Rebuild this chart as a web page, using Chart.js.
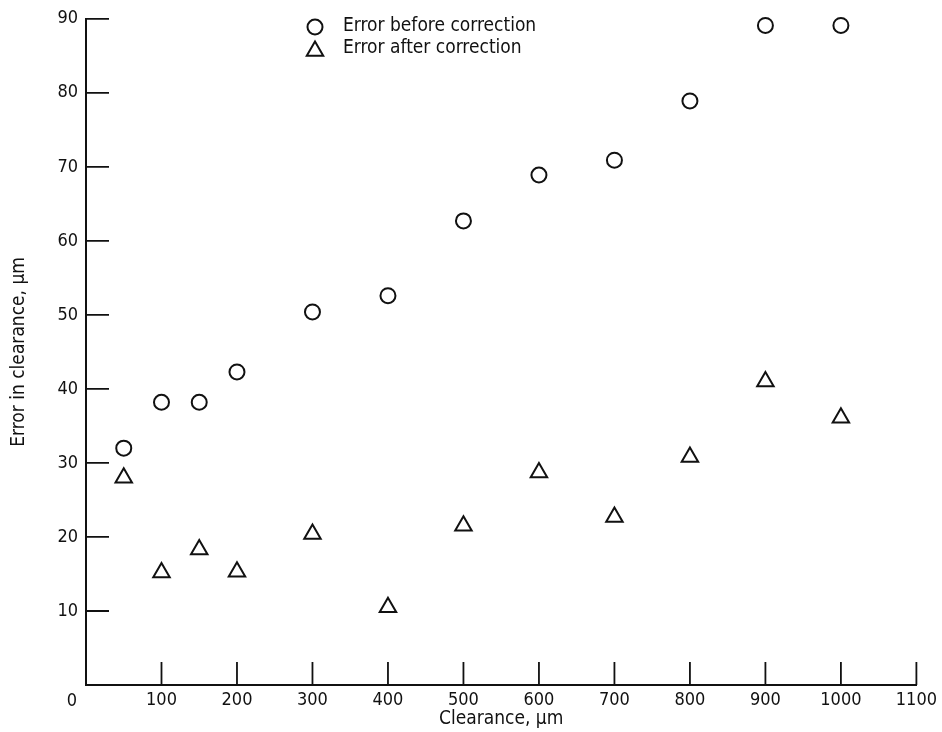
<!DOCTYPE html>
<html>
<head>
<meta charset="utf-8">
<script src="https://cdn.jsdelivr.net/npm/chart.js@4"></script>
<style>
  html, body { margin: 0; padding: 0; background: #fff; }
  #wrap { width: 942px; height: 732px; }
</style>
</head>
<body>
<div id="wrap"><canvas id="chart"></canvas></div>
<script>
// data
const clearance = [50, 100, 150, 200, 300, 400, 500, 600, 700, 800, 900, 1000];
const errorBefore = [32.0, 38.2, 38.2, 42.3, 50.4, 52.6, 62.7, 68.9, 70.9, 78.9, 89.1, 89.1];
const errorAfter = [28.0, 15.2, 18.3, 15.3, 20.4, 10.5, 21.5, 28.7, 22.7, 30.8, 41.0, 36.1];
const seriesLabels = ['Error before correction', 'Error after correction'];
const xTitle = 'Clearance, µm';
const yTitle = 'Error in clearance, µm';

const tickFont = { family: 'DejaVu Sans Condensed', size: 18 };
const textFont = { family: 'DejaVu Sans Condensed', size: 19 };
const ink = '#111';

function toPoints(ys) {
    return clearance.map((x, i) => ({ x: x, y: ys[i] }));
}

// inward tick marks, the lone "0" and the legend
const paperPlugin = {
    id: 'paper',
    afterDraw(chart) {
        const ctx = chart.ctx;
        const xs = chart.scales.x, ys = chart.scales.y;
        const x0 = xs.getPixelForValue(0), y0 = ys.getPixelForValue(0);
        ctx.save();
        ctx.strokeStyle = ink;
        ctx.lineWidth = 1.8;
        ctx.beginPath();
        xs.ticks.forEach(t => {
            if (t.value === 0) return;
            const px = xs.getPixelForValue(t.value);
            ctx.moveTo(px, y0);
            ctx.lineTo(px, y0 - 23);
        });
        ys.ticks.forEach(t => {
            if (t.value === 0) return;
            const py = ys.getPixelForValue(t.value);
            ctx.moveTo(x0, py);
            ctx.lineTo(x0 + 23, py);
        });
        ctx.stroke();

        ctx.fillStyle = ink;
        ctx.font = tickFont.size + 'px "' + tickFont.family + '"';
        ctx.textAlign = 'center';
        ctx.textBaseline = 'middle';
        ctx.fillText('0', x0 - 14, y0 + 16);

        // legend
        const lx = 315, rows = [27, 49];
        chart.data.datasets.forEach((ds, i) => {
            ctx.lineWidth = 2;
            ctx.strokeStyle = ink;
            ctx.fillStyle = 'rgba(0,0,0,0)';
            Chart.helpers.drawPoint(ctx, {
                pointStyle: ds.pointStyle,
                radius: ds.pointRadius,
                borderWidth: 2
            }, lx, rows[i] + (ds.pointStyle === 'triangle' ? 2 : 0));
            ctx.fillStyle = ink;
            ctx.font = textFont.size + 'px "' + textFont.family + '"';
            ctx.textAlign = 'left';
            ctx.fillText(ds.label, 343, rows[i] - 1);
        });
        ctx.restore();
    }
};

new Chart(document.getElementById('chart'), {
    type: 'scatter',
    data: {
        datasets: [
            {
                label: seriesLabels[0],
                data: toPoints(errorBefore),
                pointStyle: 'circle',
                pointRadius: 7.5,
                borderWidth: 2,
                borderColor: ink,
                backgroundColor: 'rgba(0,0,0,0)',
                clip: false
            },
            {
                label: seriesLabels[1],
                data: toPoints(errorAfter),
                pointStyle: 'triangle',
                pointRadius: 9.5,
                borderWidth: 2,
                borderColor: ink,
                backgroundColor: 'rgba(0,0,0,0)',
                clip: false
            }
        ]
    },
    options: {
        responsive: true,
        maintainAspectRatio: false,
        animation: false,
        layout: { padding: { left: 0, right: 23, top: 16, bottom: 0 } },
        plugins: {
            legend: { display: false },
            tooltip: { enabled: false }
        },
        scales: {
            x: {
                type: 'linear',
                min: 0,
                max: 1100,
                afterFit: s => { s.height = 47; },
                border: { display: true, color: ink, width: 2 },
                grid: { display: false, drawTicks: false },
                ticks: {
                    stepSize: 100,
                    padding: 5,
                    color: ink,
                    font: tickFont,
                    maxRotation: 0,
                    callback: v => v === 0 ? '' : v
                },
                title: {
                    display: true,
                    text: xTitle,
                    color: ink,
                    font: textFont,
                    padding: { top: 0, bottom: 2 }
                }
            },
            y: {
                type: 'linear',
                min: 0,
                max: 90,
                afterFit: s => { s.width = 86; },
                border: { display: true, color: ink, width: 2 },
                grid: { display: false, drawTicks: false },
                ticks: {
                    stepSize: 10,
                    padding: 8,
                    color: ink,
                    font: tickFont,
                    callback: v => v === 0 ? '' : v
                },
                title: {
                    display: true,
                    text: yTitle,
                    color: ink,
                    font: textFont,
                    padding: { top: 8, bottom: 0 }
                }
            }
        }
    },
    plugins: [paperPlugin]
});
</script>
</body>
</html>
